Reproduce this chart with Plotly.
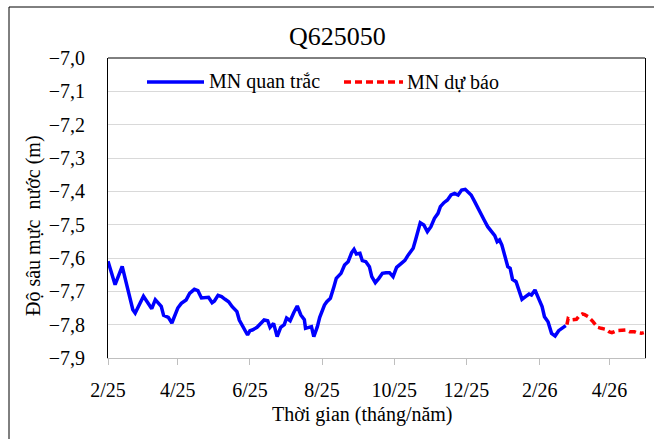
import plotly.graph_objects as go

# Observed groundwater depth (MN quan trắc), well Q625050
obs_dates = [
    "2025-02-01", "2025-02-07", "2025-02-13", "2025-02-22", "2025-02-24",
    "2025-03-03", "2025-03-10", "2025-03-13", "2025-03-18", "2025-03-20",
    "2025-03-24", "2025-03-27", "2025-04-01", "2025-04-04", "2025-04-08",
    "2025-04-11", "2025-04-15", "2025-04-18", "2025-04-21", "2025-04-25",
    "2025-04-27", "2025-04-30", "2025-05-02", "2025-05-05", "2025-05-08",
    "2025-05-11", "2025-05-14", "2025-05-17", "2025-05-21", "2025-05-23",
    "2025-05-26", "2025-05-30", "2025-06-01", "2025-06-03", "2025-06-07",
    "2025-06-10", "2025-06-13", "2025-06-16", "2025-06-18", "2025-06-21",
    "2025-06-24", "2025-06-27", "2025-06-30", "2025-07-02", "2025-07-05",
    "2025-07-08", "2025-07-11", "2025-07-14", "2025-07-17", "2025-07-18",
    "2025-07-23", "2025-07-25", "2025-07-28", "2025-07-30", "2025-08-03",
    "2025-08-05", "2025-08-08", "2025-08-11", "2025-08-13", "2025-08-17",
    "2025-08-20", "2025-08-23", "2025-08-26", "2025-08-28", "2025-08-30",
    "2025-09-02", "2025-09-04", "2025-09-07", "2025-09-10", "2025-09-12",
    "2025-09-15", "2025-09-18", "2025-09-21", "2025-09-24", "2025-09-27",
    "2025-09-30", "2025-10-03", "2025-10-07", "2025-10-10", "2025-10-13",
    "2025-10-17", "2025-10-19", "2025-10-21", "2025-10-23", "2025-10-26",
    "2025-10-29", "2025-11-01", "2025-11-04", "2025-11-07", "2025-11-09",
    "2025-11-12", "2025-11-15", "2025-11-18", "2025-11-21", "2025-11-24",
    "2025-11-27", "2025-11-30", "2025-12-02", "2025-12-05", "2025-12-08",
    "2025-12-10", "2025-12-13", "2025-12-16", "2025-12-19", "2025-12-22",
    "2025-12-25", "2025-12-27", "2025-12-29", "2025-12-31", "2026-01-03",
    "2026-01-05", "2026-01-07", "2026-01-09", "2026-01-12", "2026-01-15",
    "2026-01-17", "2026-01-20", "2026-01-23", "2026-01-25", "2026-01-28",
    "2026-01-31", "2026-02-03", "2026-02-05", "2026-02-08", "2026-02-11",
    "2026-02-14", "2026-02-17", "2026-02-21", "2026-02-23",
]
obs_depth = [
    -7.610, -7.680, -7.625, -7.755, -7.765,
    -7.715, -7.752, -7.725, -7.745, -7.772,
    -7.778, -7.795, -7.750, -7.736, -7.726,
    -7.706, -7.694, -7.698, -7.720, -7.718,
    -7.718, -7.734, -7.729, -7.712, -7.716,
    -7.724, -7.731, -7.746, -7.761, -7.786,
    -7.806, -7.831, -7.818, -7.816, -7.808,
    -7.796, -7.786, -7.788, -7.808, -7.796,
    -7.836, -7.808, -7.800, -7.780, -7.788,
    -7.764, -7.744, -7.771, -7.785, -7.811,
    -7.806, -7.836, -7.806, -7.778, -7.741,
    -7.731, -7.721, -7.686, -7.661, -7.646,
    -7.621, -7.611, -7.584, -7.574, -7.588,
    -7.586, -7.608, -7.611, -7.626, -7.656,
    -7.674, -7.661, -7.646, -7.644, -7.644,
    -7.656, -7.628, -7.616, -7.607, -7.590,
    -7.571, -7.546, -7.516, -7.494, -7.501,
    -7.521, -7.506, -7.481, -7.466, -7.446,
    -7.434, -7.426, -7.411, -7.406, -7.411,
    -7.396, -7.394, -7.401, -7.411, -7.431,
    -7.446, -7.466, -7.486, -7.506, -7.521,
    -7.533, -7.551, -7.546, -7.561, -7.606,
    -7.626, -7.631, -7.664, -7.671, -7.701,
    -7.724, -7.716, -7.708, -7.711, -7.696,
    -7.721, -7.746, -7.776, -7.791, -7.826,
    -7.834, -7.818, -7.806, -7.803,
]

# Forecast groundwater depth (MN dự báo)
fc_dates = [
    "2026-02-24", "2026-02-25", "2026-02-27", "2026-03-04", "2026-03-06",
    "2026-03-09", "2026-03-11", "2026-03-14", "2026-03-18", "2026-03-22",
    "2026-03-25", "2026-03-29", "2026-04-01", "2026-04-03", "2026-04-07",
    "2026-04-11", "2026-04-15", "2026-04-18", "2026-04-22", "2026-04-24",
    "2026-04-28", "2026-04-30",
]
fc_depth = [
    -7.800, -7.782, -7.786, -7.784, -7.775,
    -7.768, -7.770, -7.776, -7.791, -7.808,
    -7.811, -7.814, -7.822, -7.824, -7.818,
    -7.818, -7.816, -7.821, -7.821, -7.824,
    -7.826, -7.824,
]

FONT = "Liberation Serif"
BLUE = "#0000FF"
RED = "#FF0000"
DASH = "7px,4px"

fig = go.Figure()
fig.add_trace(go.Scatter(
    x=obs_dates, y=obs_depth, mode="lines", name="MN quan trắc",
    line=dict(color=BLUE, width=3.5),
))
fig.add_trace(go.Scatter(
    x=fc_dates, y=fc_depth, mode="lines", name="MN dự báo",
    line=dict(color=RED, width=3.5, dash=DASH),
))

W, H = 654, 439
L, R, T, B = 108, 9, 58, 81
pw, ph = W - L - R, H - T - B


def px_x(x):
    return (x - L) / pw


def px_y(y):
    return (H - B - y) / ph


shapes = [
    # outer chart frame (left and top edges)
    dict(type="line", xref="paper", yref="paper",
         x0=px_x(9), x1=px_x(9), y0=px_y(H), y1=px_y(7),
         line=dict(color="black", width=1)),
    dict(type="line", xref="paper", yref="paper",
         x0=px_x(9), x1=px_x(W), y0=px_y(7), y1=px_y(7),
         line=dict(color="black", width=1)),
    # top edge of plot area
    dict(type="line", xref="paper", yref="paper", x0=0, x1=1, y0=1, y1=1,
         line=dict(color="black", width=1)),
    # legend samples
    dict(type="line", xref="paper", yref="paper",
         x0=px_x(147), x1=px_x(204), y0=px_y(82), y1=px_y(82),
         line=dict(color=BLUE, width=3.5)),
    dict(type="line", xref="paper", yref="paper",
         x0=px_x(344), x1=px_x(403), y0=px_y(82), y1=px_y(82),
         line=dict(color=RED, width=3.5, dash=DASH)),
]


def label(text, x, y, size=20, **kw):
    return dict(text=text, xref="paper", yref="paper", x=px_x(x), y=px_y(y),
                yanchor="middle", showarrow=False,
                font=dict(family=FONT, size=size, color="black"), **kw)


annotations = [
    label("Q625050", 337, 37, size=26, xanchor="center"),
    label("MN quan trắc", 207, 82, xanchor="left"),
    label("MN dự báo", 405, 82, xanchor="left"),
    label("Thời gian (tháng/năm)", 362, 414, xanchor="center"),
    label("Độ sâu mực  nước (m)", 33, 226, xanchor="center", textangle=-90),
]

fig.update_layout(
    width=W, height=H,
    margin=dict(l=L, r=R, t=T, b=B),
    paper_bgcolor="white", plot_bgcolor="white",
    separators=",.",
    showlegend=False,
    font=dict(family=FONT, size=20, color="black"),
    shapes=shapes,
    annotations=annotations,
    xaxis=dict(
        type="date",
        range=["2025-02-01", "2026-05-01"],
        tick0="2025-02-01", dtick="M2", tickformat="%-m/%y",
        showgrid=False, zeroline=False,
        showline=True, linecolor="#bfbfbf", linewidth=1,
        ticks="outside", ticklen=6, tickcolor="#bfbfbf", tickwidth=1,
        tickfont=dict(family=FONT, size=20, color="black"),
        ticklabelstandoff=8,
    ),
    yaxis=dict(
        range=[-7.9, -7.0],
        tick0=-7.9, dtick=0.1, tickformat=".1f",
        showgrid=True, gridcolor="#d9d9d9", gridwidth=1,
        zeroline=False,
        showline=True, linecolor="black", linewidth=1, mirror=True,
        tickfont=dict(family=FONT, size=20, color="black"),
        ticklabelstandoff=18,
    ),
)

fig.write_html("out.html")
